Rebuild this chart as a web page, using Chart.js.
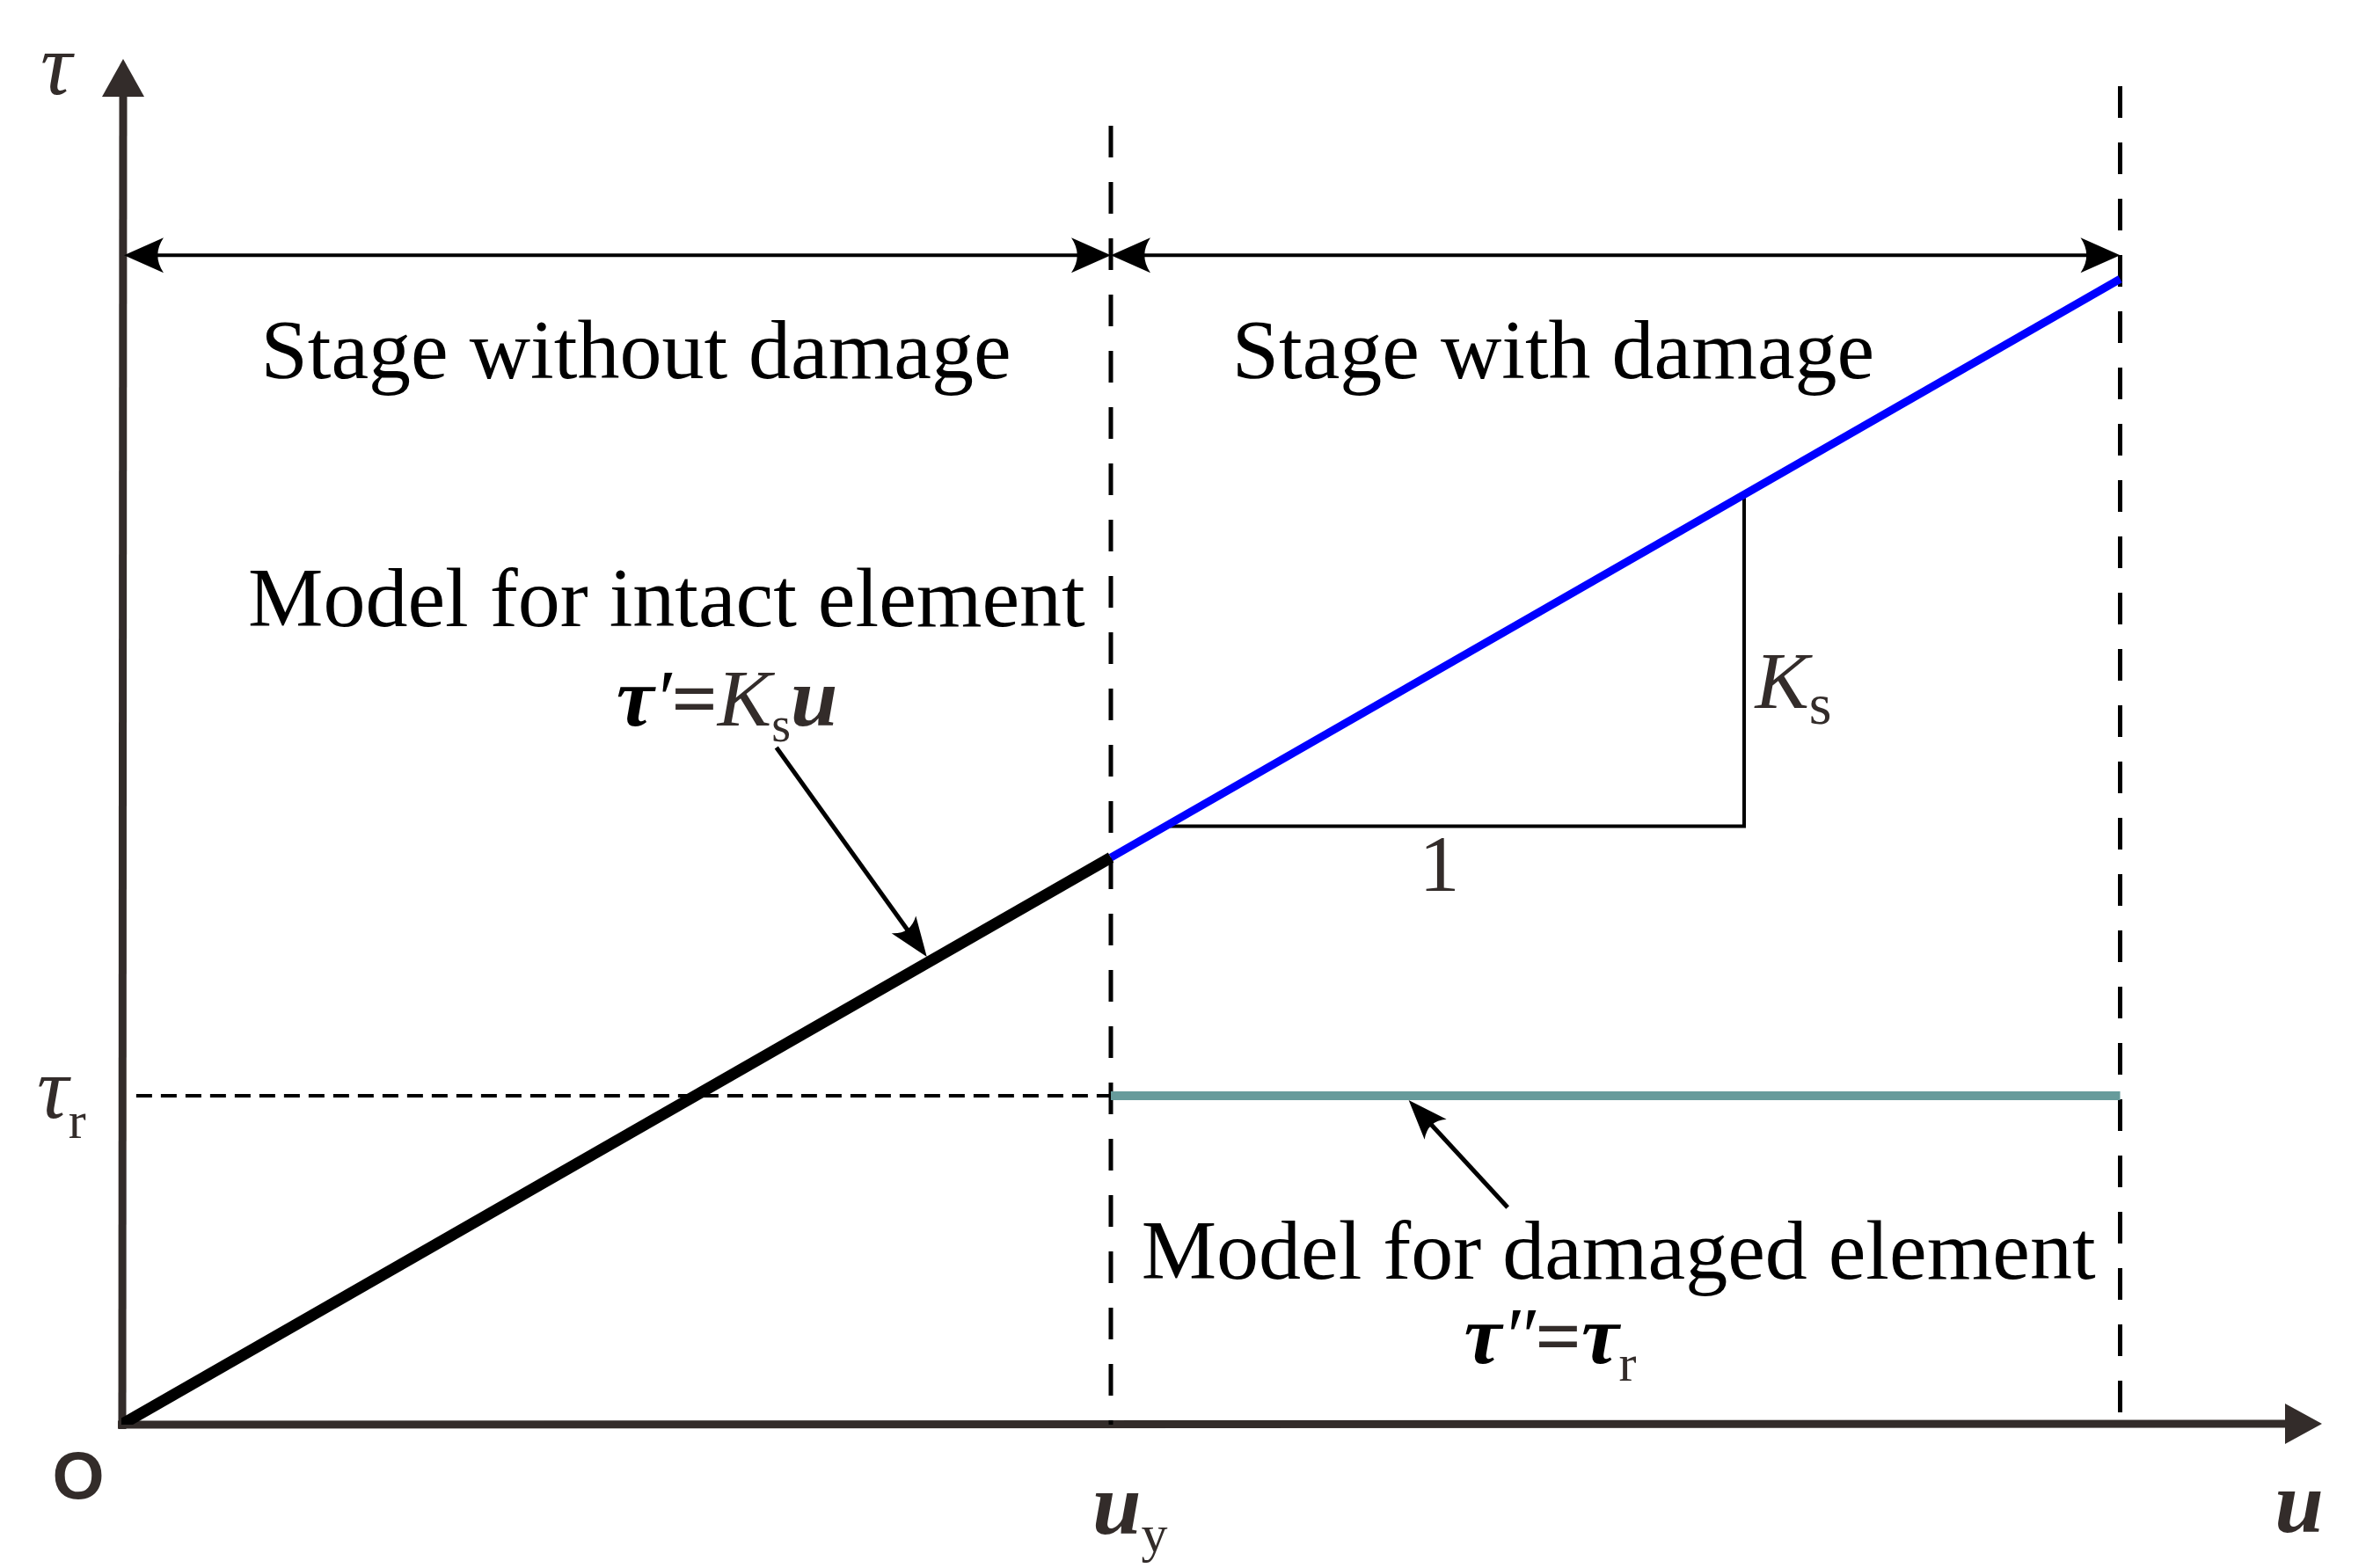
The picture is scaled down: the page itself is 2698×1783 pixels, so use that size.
<!DOCTYPE html>
<html>
<head>
<meta charset="utf-8">
<script src="https://cdn.jsdelivr.net/npm/chart.js@4.4.1/dist/chart.umd.min.js"></script>
<style>
  html, body { margin: 0; padding: 0; background: #fff; }
  canvas { display: block; }
</style>
</head>
<body>
<canvas id="modelChart" width="2698" height="1783"></canvas>
<script>
// normalised units: u_y = 1, K_s = 1 (so tau_y = 1)
const uIntact = [0, 1.0];
const tauIntact = [0, 1.0];
const uDamaged = [1.0, 2.02];
const tauDamaged = [1.0, 2.02];
const uResidual = [1.0, 2.02];
const tauResidual = [0.58, 0.58];
const uResDash = [0.015, 1.0];
const tauResDash = [0.58, 0.58];
// slope triangle (1 : K_s)
const uTriangle = [1.055, 1.64, 1.64];
const tauTriangle = [1.055, 1.055, 1.64];
// guide lines
const uGuides = [1.0, 2.02];
const tauGuideTop = [2.29, 2.36];
const tauStageArrow = 2.062;

const toPts = (xs, ys) => xs.map((x, i) => ({ x: x, y: ys[i] }));

const serif = '"Liberation Serif", "Times New Roman", serif';
const sans = '"Liberation Sans", Arial, sans-serif';
const axisColor = '#332c2a';

function barb(ctx, tx, ty, ang, len, half) {
    ctx.save();
    ctx.translate(tx, ty);
    ctx.rotate(ang);
    ctx.beginPath();
    ctx.moveTo(0, 0);
    ctx.lineTo(-len, -half);
    ctx.quadraticCurveTo(-len * 0.7, 0, -len, half);
    ctx.closePath();
    ctx.fill();
    ctx.restore();
}

function arrow(ctx, x1, y1, x2, y2, w, len, half, both) {
    ctx.lineWidth = w;
    ctx.lineCap = 'butt';
    const a = Math.atan2(y2 - y1, x2 - x1);
    ctx.beginPath();
    ctx.moveTo(x1 + (both ? Math.cos(a) * len * 0.8 : 0), y1 + (both ? Math.sin(a) * len * 0.8 : 0));
    ctx.lineTo(x2 - Math.cos(a) * len * 0.8, y2 - Math.sin(a) * len * 0.8);
    ctx.stroke();
    barb(ctx, x2, y2, a, len, half);
    if (both) barb(ctx, x1, y1, a + Math.PI, len, half);
}

// parts: [text, font, dy, color]
function rich(ctx, parts, x, y, align) {
    let w = 0;
    parts.forEach(p => { ctx.font = p[1]; w += ctx.measureText(p[0]).width; });
    let cx = align === 'center' ? x - w / 2 : x;
    parts.forEach(p => {
        ctx.font = p[1];
        ctx.fillStyle = p[3] || '#000';
        ctx.fillText(p[0], cx, y + (p[2] || 0));
        cx += ctx.measureText(p[0]).width;
    });
}

const axesPlugin = {
    id: 'axesPlugin',
    beforeDatasetsDraw(chart) {
        const ctx = chart.ctx;
        const area = chart.chartArea;
        const X = v => chart.scales.x.getPixelForValue(v);
        const Y = v => chart.scales.y.getPixelForValue(v);
        const x0 = X(0), y0 = Y(0);
        ctx.save();
        ctx.fillStyle = axisColor;
        ctx.strokeStyle = axisColor;
        ctx.lineWidth = 9;
        // y axis
        ctx.beginPath();
        ctx.moveTo(x0 + 1, y0 + 5);
        ctx.lineTo(x0 + 2, area.top + 40);
        ctx.stroke();
        ctx.beginPath();
        ctx.moveTo(x0 + 2, area.top);
        ctx.lineTo(x0 - 22, area.top + 43);
        ctx.lineTo(x0 + 26, area.top + 43);
        ctx.closePath();
        ctx.fill();
        // x axis
        ctx.beginPath();
        ctx.moveTo(x0 - 4, y0);
        ctx.lineTo(area.right - 40, y0 - 1);
        ctx.stroke();
        ctx.beginPath();
        ctx.moveTo(area.right, y0 - 1);
        ctx.lineTo(area.right - 42, y0 - 24);
        ctx.lineTo(area.right - 42, y0 + 22);
        ctx.closePath();
        ctx.fill();
        ctx.restore();
    },
    afterDatasetsDraw(chart) {
        const ctx = chart.ctx;
        const X = v => chart.scales.x.getPixelForValue(v);
        const Y = v => chart.scales.y.getPixelForValue(v);
        const x0 = X(0), y0 = Y(0);
        ctx.save();
        ctx.fillStyle = '#000';
        ctx.strokeStyle = '#000';
        ctx.textBaseline = 'alphabetic';
        ctx.textAlign = 'left';

        // stage arrows
        const ys = Y(tauStageArrow);
        arrow(ctx, x0 + 3, ys, X(uGuides[0]), ys, 4, 45, 20, true);
        arrow(ctx, X(uGuides[0]), ys, X(uGuides[1]), ys, 4, 45, 20, true);

        // annotation arrows
        arrow(ctx, X(0.662), Y(1.194), X(0.814), Y(0.825), 5, 45, 17, false);
        arrow(ctx, X(1.401), Y(0.383), X(1.301), Y(0.572), 5, 45, 17, false);

        const f = 96;
        ctx.font = f + 'px ' + serif;
        ctx.textAlign = 'center';
        ctx.fillText('Stage without damage', X(0.52), Y(1.845));
        ctx.fillText('Stage with damage', X(1.447), Y(1.845));
        ctx.fillText('Model for intact element', X(0.551), Y(1.408));
        ctx.fillText('Model for damaged element', X(1.513), Y(0.257));
        ctx.fillStyle = axisColor;
        ctx.font = '92px ' + serif;
        ctx.fillText('1', X(1.332), Y(0.941));
        ctx.textAlign = 'left';

        // formulas
        rich(ctx, [
            ['τ', 'bold italic 96px ' + serif, 0, '#000'],
            ['′', 'italic 92px ' + serif, 0, '#000'],
            ['=', 'bold 92px ' + serif, 0, axisColor],
            ['K', 'italic 92px ' + serif, 0, axisColor],
            ['s', '56px ' + serif, 18, axisColor],
            ['u', 'bold italic 96px ' + serif, 0, axisColor]
        ], X(0.612), Y(1.233), 'center');
        rich(ctx, [
            ['τ', 'bold italic 96px ' + serif, 0, '#000'],
            ['″', 'italic 92px ' + serif, 0, '#000'],
            ['=', 'bold 92px ' + serif, 0, axisColor],
            ['τ', 'bold italic 96px ' + serif, 0, '#000'],
            ['r', '60px ' + serif, 20, axisColor]
        ], X(1.444), Y(0.109), 'center');
        rich(ctx, [
            ['K', 'italic 92px ' + serif, 0, axisColor],
            ['s', '66px ' + serif, 18, axisColor]
        ], X(1.651), Y(1.264), 'left');

        // axis labels
        rich(ctx, [['τ', 'italic 100px ' + serif, 0, axisColor]], x0 - 92, chart.chartArea.top + 40, 'left');
        rich(ctx, [
            ['τ', 'italic 100px ' + serif, 0, axisColor],
            ['r', '60px ' + serif, 23, axisColor]
        ], x0 - 96, Y(tauResidual[0]) + 25, 'left');
        ctx.fillStyle = axisColor;
        ctx.font = 'bold 76px ' + sans;
        ctx.textAlign = 'center';
        ctx.fillText('O', x0 - 49, y0 + 84);
        ctx.textAlign = 'left';
        rich(ctx, [['u', 'bold italic 100px ' + serif, 0, axisColor]], chart.chartArea.right - 26, y0 + 122, 'center');
        rich(ctx, [
            ['u', 'bold italic 100px ' + serif, 0, axisColor],
            ['y', '60px ' + serif, 20, axisColor]
        ], X(uGuides[0]) - 21, y0 + 124, 'left');
        ctx.restore();
    }
};

const ctx = document.getElementById('modelChart').getContext('2d');
new Chart(ctx, {
    type: 'scatter',
    data: {
        datasets: [
            {
                label: 'intact',
                data: toPts(uIntact, tauIntact),
                showLine: true, borderColor: '#000', borderWidth: 13,
                pointRadius: 0, borderCapStyle: 'butt', order: 1
            },
            {
                label: 'damaged',
                data: toPts(uDamaged, tauDamaged),
                showLine: true, borderColor: '#0000ff', borderWidth: 9,
                pointRadius: 0, borderCapStyle: 'butt', order: 2
            },
            {
                label: 'residual',
                data: toPts(uResidual, tauResidual),
                showLine: true, borderColor: '#679b9b', borderWidth: 10,
                pointRadius: 0, borderCapStyle: 'butt', order: 3
            },
            {
                label: 'tau_r guide',
                data: toPts(uResDash, tauResDash),
                showLine: true, borderColor: '#000', borderWidth: 4, borderDash: [18, 10],
                pointRadius: 0, borderCapStyle: 'butt', order: 5
            },
            {
                label: 'u_y guide',
                data: [{ x: uGuides[0], y: tauGuideTop[0] }, { x: uGuides[0], y: 0 }],
                showLine: true, borderColor: '#000', borderWidth: 5, borderDash: [36, 28],
                pointRadius: 0, borderCapStyle: 'butt', order: 6
            },
            {
                label: 'u end guide',
                data: [{ x: uGuides[1], y: tauGuideTop[1] }, { x: uGuides[1], y: 0 }],
                showLine: true, borderColor: '#000', borderWidth: 5, borderDash: [36, 28],
                pointRadius: 0, borderCapStyle: 'butt', order: 6
            },
            {
                label: 'slope triangle',
                data: toPts(uTriangle, tauTriangle),
                showLine: true, borderColor: '#000', borderWidth: 4,
                pointRadius: 0, borderCapStyle: 'butt', borderJoinStyle: 'miter', order: 4
            }
        ]
    },
    options: {
        responsive: false,
        animation: false,
        layout: { padding: { left: 138, right: 58, top: 67, bottom: 163 } },
        plugins: {
            legend: { display: false },
            tooltip: { enabled: false }
        },
        elements: { line: { tension: 0 } },
        scales: {
            x: { type: 'linear', min: 0, max: 2.224, display: false },
            y: { type: 'linear', min: 0, max: 2.408, display: false }
        }
    },
    plugins: [axesPlugin]
});
</script>
</body>
</html>
